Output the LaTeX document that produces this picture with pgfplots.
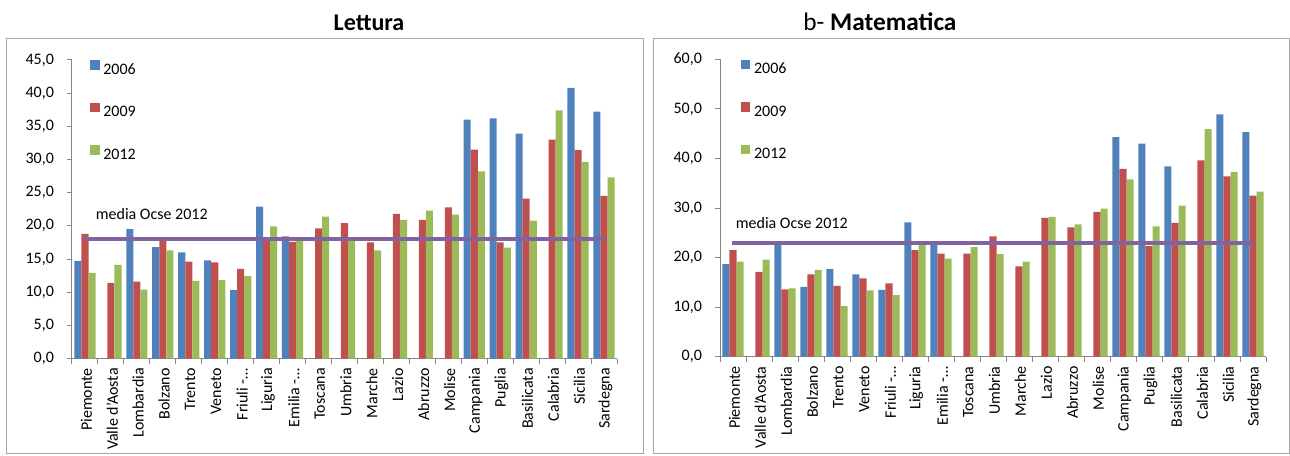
\documentclass[border=0pt]{standalone}
\usepackage{fontspec}
\setmainfont{Carlito}
\usepackage{pgfplots}
\usepackage{pgfplotstable}
\pgfplotsset{compat=1.18}
\definecolor{c06}{HTML}{4F81BD}
\definecolor{c09}{HTML}{C0504D}
\definecolor{c12}{HTML}{9BBB59}
\definecolor{cline}{HTML}{8064A2}
\definecolor{cax}{HTML}{868686}
\definecolor{cframe}{HTML}{A6A6A6}

\pgfplotstableread{
idx v06 v09 v12
0 14.7 18.8 12.9
1 nan 11.4 14.1
2 19.5 11.6 10.4
3 16.8 18.0 16.3
4 16.0 14.6 11.7
5 14.8 14.5 11.8
6 10.3 13.5 12.4
7 22.9 17.8 19.9
8 18.4 17.6 17.8
9 nan 19.6 21.4
10 nan 20.4 17.8
11 nan 17.5 16.3
12 nan 21.8 20.9
13 nan 20.9 22.3
14 nan 22.8 21.7
15 36.0 31.5 28.2
16 36.2 17.5 16.7
17 33.9 24.1 20.8
18 nan 33.0 37.4
19 40.8 31.4 29.6
20 37.2 24.5 27.3
}\lett

\pgfplotstableread{
idx v06 v09 v12
0 18.7 21.5 19.2
1 nan 17.1 19.6
2 23.0 13.6 13.8
3 14.1 16.6 17.5
4 17.7 14.3 10.2
5 16.6 15.8 13.4
6 13.5 14.8 12.4
7 27.1 21.5 22.5
8 22.9 20.8 19.8
9 nan 20.8 22.1
10 nan 24.3 20.7
11 nan 18.2 19.2
12 nan 28.0 28.2
13 nan 26.1 26.7
14 nan 29.2 29.9
15 44.3 37.9 35.8
16 43.0 22.3 26.3
17 38.4 27.0 30.5
18 nan 39.6 45.9
19 48.9 36.4 37.3
20 45.3 32.5 33.3
}\mate

\pgfplotsset{
  regchart/.style={
    scale only axis,
    ybar=0pt, bar width=5.3pt,
    xmin=-0.5, xmax=20.5, ymin=0,
    axis lines*=left,
    axis line style={draw=cax, line width=0.75pt},
    tick style={draw=cax, line width=0.75pt},
    tick align=outside, major tick length=3.75pt,
    xtick={-0.5,0.5,...,20.5},
    x tick label as interval,
    xticklabels={Piemonte,Valle d'Aosta,Lombardia,Bolzano,Trento,Veneto,Friuli -…,Liguria,Emilia -…,Toscana,Umbria,Marche,Lazio,Abruzzo,Molise,Campania,Puglia,Basilicata,Calabria,Sicilia,Sardegna},
    xticklabel style={rotate=90, anchor=east, font=\fontsize{12}{14}\selectfont, yshift=-1pt},
    yticklabel style={font=\fontsize{12}{14}\selectfont, xshift=-6.3pt},
    /pgf/number format/.cd, fixed, fixed zerofill, precision=1, use comma, assume math mode=true,
    /pgfplots/.cd,
    legend image code/.code={\fill[##1] (0pt,0.2pt) rectangle (7pt,7.2pt);},
    legend style={draw=none, fill=none, inner sep=0pt, row sep=20pt, column sep=2.8pt,
      font=\fontsize{12}{14}\selectfont, nodes={inner sep=0pt}},
    legend cell align=left,
  }
}

\begin{document}
\begin{tikzpicture}
\useasboundingbox (0pt,0pt) rectangle (967.5pt,-341.25pt);
\draw[cframe, line width=0.75pt] (4.5pt,-28.5pt) rectangle (482.25pt,-339.75pt);
\draw[cframe, line width=0.75pt] (489.75pt,-28.5pt) rectangle (966.75pt,-339.75pt);
\node[anchor=base, font=\fontsize{18}{20}\selectfont\bfseries] at (276.75pt,-22.5pt) {Lettura};
\node[anchor=base west, font=\fontsize{19}{21}\selectfont] at (599pt,-22.5pt) {b- \textbf{Matematica}};

\begin{axis}[regchart, at={(54pt,-268.875pt)}, anchor=south west,
  width=408.75pt, height=223.9pt, ymax=45, ytick={0,5,...,45},
  legend style={at={(0.033,1.0)}, anchor=north west}]
\addplot[fill=c06, draw=none] table[x=idx, y=v06] {\lett};
\addplot[fill=c09, draw=none] table[x=idx, y=v09] {\lett};
\addplot[fill=c12, draw=none] table[x=idx, y=v12] {\lett};
\legend{2006,2009,2012}
\addplot[sharp plot, draw=cline, line width=3pt, forget plot] coordinates {(-0.05,18.0) (20.05,18.0)};
\node[anchor=west, inner sep=0pt, font=\fontsize{12}{14}\selectfont] at (axis cs:0.41,21.8) {media Ocse 2012};
\end{axis}

\begin{axis}[regchart, at={(540pt,-267.525pt)}, anchor=south west,
  width=409.5pt, height=223.05pt, ymax=60, ytick={0,10,...,60},
  legend style={at={(0.038,1.0)}, anchor=north west}]
\addplot[fill=c06, draw=none] table[x=idx, y=v06] {\mate};
\addplot[fill=c09, draw=none] table[x=idx, y=v09] {\mate};
\addplot[fill=c12, draw=none] table[x=idx, y=v12] {\mate};
\legend{2006,2009,2012}
\addplot[sharp plot, draw=cline, line width=3pt, forget plot] coordinates {(-0.05,23.0) (20.05,23.0)};
\node[anchor=west, inner sep=0pt, font=\fontsize{12}{14}\selectfont] at (axis cs:0.10,27.0) {media Ocse 2012};
\end{axis}
\end{tikzpicture}
\end{document}
